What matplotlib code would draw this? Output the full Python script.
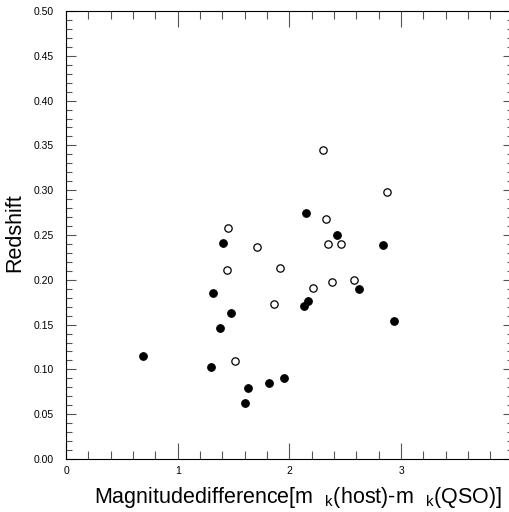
import matplotlib
matplotlib.use("Agg")
import matplotlib.pyplot as plt
from matplotlib.ticker import MultipleLocator, FormatStrFormatter

plt.rcParams['font.family'] = ['Liberation Sans', 'DejaVu Sans']
plt.rcParams['mathtext.fontset'] = 'custom'
plt.rcParams['mathtext.rm'] = 'Liberation Sans'

# filled circles
mag_filled = [0.69, 1.32, 1.48, 1.38, 1.30, 1.60, 1.63, 1.82, 1.95, 2.13, 2.17, 2.62, 2.94,
              2.15, 1.41, 2.43, 2.84]
z_filled = [0.115, 0.185, 0.163, 0.146, 0.103, 0.063, 0.079, 0.085, 0.090, 0.171, 0.176, 0.190, 0.154,
            0.275, 0.241, 0.250, 0.239]
# open circles
mag_open = [2.30, 2.87, 2.33, 1.45, 1.71, 2.35, 2.46, 1.44, 1.92, 2.38, 2.58, 2.21, 1.86, 1.51]
z_open = [0.345, 0.298, 0.268, 0.258, 0.237, 0.240, 0.240, 0.211, 0.213, 0.197, 0.200, 0.191, 0.173, 0.109]

fig = plt.figure(figsize=(5.09, 5.12), dpi=100)
ax = fig.add_axes([66/509, 1-459/512, 446.8/509, 448/512])

ax.scatter(mag_filled, z_filled, s=30, c='black', edgecolors='black', linewidths=0.8, zorder=3)
ax.scatter(mag_open, z_open, s=28, facecolors='white', edgecolors='black', linewidths=0.9, zorder=3)

ax.set_xlim(0, 4)
ax.set_ylim(0, 0.5)
ax.set_xticks([0, 1, 2, 3])
ax.xaxis.set_minor_locator(MultipleLocator(0.2))
ax.yaxis.set_major_locator(MultipleLocator(0.05))
ax.yaxis.set_minor_locator(MultipleLocator(0.01))
ax.yaxis.set_major_formatter(FormatStrFormatter('%.2f'))

for s in ax.spines.values():
    s.set_linewidth(0.8)

ax.tick_params(axis='x', which='both', direction='in', top=True, bottom=True,
               color='#555555', width=0.8, labelsize=7.5, pad=5)
ax.tick_params(axis='x', which='major', length=11.5)
ax.tick_params(axis='x', which='minor', length=5.8)
ax.tick_params(axis='y', which='both', direction='in', left=True, right=True,
               color='#555555', width=0.8, labelsize=7.5, pad=9)
ax.tick_params(axis='y', which='major', length=7)
ax.tick_params(axis='y', which='minor', length=4.3)

fig.text(15/509, 1-233/512, 'Redshift', rotation=90, ha='center', va='center', fontsize=15.5)
fig.text(298/509, 1-503/512,
         r'Magnitudedifference[m  $_\mathregular{k}$(host)-m  $_\mathregular{k}$(QSO)]',
         ha='center', va='baseline', fontsize=15.5)

fig.savefig('out.png', dpi=100)
